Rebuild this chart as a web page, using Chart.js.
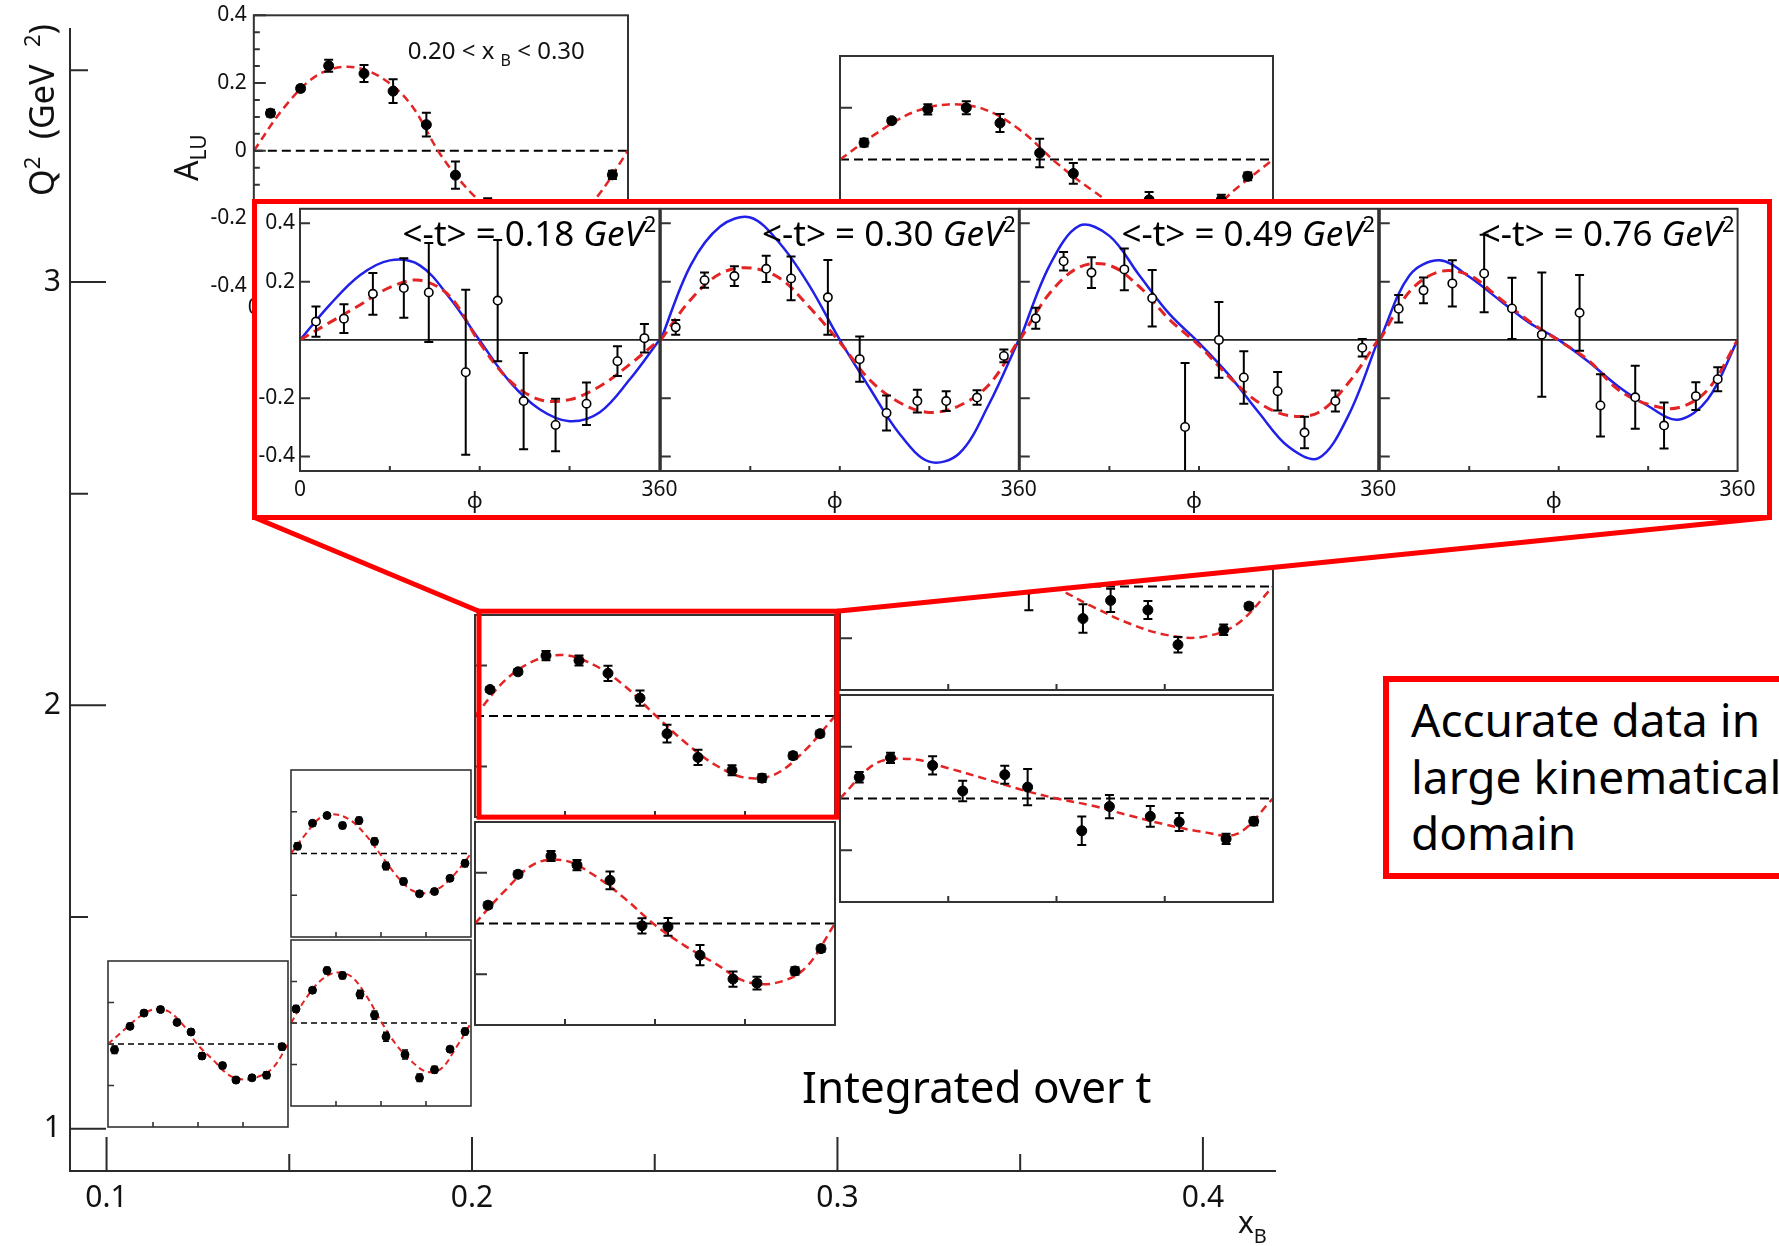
<!DOCTYPE html>
<html>
<head>
<meta charset="utf-8">
<title>Beam spin asymmetry A_LU in x_B, Q2 bins</title>
<script src="https://cdn.jsdelivr.net/npm/chart.js@4.4.1/dist/chart.umd.min.js"></script>
<style>
  html, body { margin: 0; padding: 0; background: #fff; }
  #page { position: relative; width: 1779px; height: 1246px; overflow: hidden; background: #fff; }
  #page canvas { position: absolute; }
  #inset { position: absolute; left: 252px; top: 199px; width: 1520px; height: 321px; box-sizing: border-box;
           border: 5px solid #ff0000; background: #fff; overflow: hidden; z-index: 4; }
  .comic { position: absolute; font-family: "Noto Sans", "DejaVu Sans", sans-serif; color: #000; white-space: nowrap; }
  #integrated { left: 802px; top: 1064px; font-size: 44px; line-height: 44px; z-index: 5; }
  #domain { left: 1383px; top: 676px; width: 560px; height: 203px; box-sizing: border-box; border: 6px solid #ff0000;
            padding: 9px 0 0 22px; font-size: 46px; line-height: 56.7px; background: #fff; z-index: 5; }
</style>
</head>
<body>
<div id="page">
  <canvas id="main" width="1779" height="1246" style="left:0;top:0"></canvas>
  <canvas id="overlay" width="1779" height="1246" style="left:0;top:0;z-index:3"></canvas>
  <div id="inset"></div>
  <div id="integrated" class="comic">Integrated over t</div>
  <div id="domain" class="comic">Accurate data in<br>large kinematical<br>domain</div>
</div>
<script>
// big frame: x_B across, Q2 up
const XB_RANGE = [0.09, 0.42];
const Q2_RANGE = [0.9, 3.6];
const X_TICKS = [0.1, 0.2, 0.3, 0.4];
const X_TICK_LABELS = ['0.1', '0.2', '0.3', '0.4'];
const X_MINOR = [0.15, 0.25, 0.35];
const Y_TICKS = [1, 2, 3];
const Y_TICK_LABELS = ['1', '2', '3'];
const Y_MINOR = [1.5, 2.5, 3.5];

// every small panel: phi 0..360, A_LU
const PHI_TICKS = [90, 180, 270];
const PANEL_Y_TICKS = [-0.2, 0.2];
const FIT_PHI = [0, 30, 60, 90, 120, 150, 180, 210, 240, 270, 300, 330, 360];
const ZERO_PHI = [0, 360];
const ZERO_A = [0, 0];

// bins are [xB low, xB high, Q2 low, Q2 high]
const P1_BIN = [0.10, 0.15, 1.00, 1.40];
const P1_PHI = [13, 44, 72, 105, 138, 166, 188, 229, 256, 288, 317, 348];
const P1_A = [-0.028, 0.085, 0.149, 0.166, 0.104, 0.058, -0.058, -0.104, -0.174, -0.163, -0.150, -0.013];
const P1_ERR = [0.018, 0.014, 0.012, 0.012, 0.014, 0.014, 0.016, 0.014, 0.012, 0.012, 0.016, 0.016];
const P1_FIT = [0, 0.063, 0.126, 0.166, 0.158, 0.092, -0.005, -0.076, -0.147, -0.171, -0.158, -0.115, 0];

const P2A_BIN = [0.15, 0.20, 1.05, 1.45];
const P2A_PHI = [10, 43, 72, 103, 138, 167, 190, 228, 257, 287, 318, 348];
const P2A_A = [0.068, 0.158, 0.253, 0.229, 0.138, 0.038, -0.066, -0.152, -0.264, -0.225, -0.126, -0.041];
const P2A_ERR = [0.016, 0.012, 0.016, 0.016, 0.02, 0.02, 0.022, 0.022, 0.018, 0.016, 0.012, 0.016];
const P2A_FIT = [0, 0.119, 0.206, 0.243, 0.225, 0.134, 0.008, -0.103, -0.182, -0.234, -0.221, -0.119, 0];

const P2B_BIN = [0.15, 0.20, 1.45, 1.85];
const P2B_PHI = [13, 43, 72, 103, 136, 167, 190, 225, 257, 287, 318, 348];
const P2B_A = [0.035, 0.145, 0.182, 0.134, 0.158, 0.058, -0.060, -0.134, -0.193, -0.182, -0.119, -0.047];
const P2B_ERR = [0.016, 0.012, 0.012, 0.014, 0.016, 0.016, 0.018, 0.016, 0.012, 0.012, 0.012, 0.016];
const P2B_FIT = [0, 0.095, 0.174, 0.187, 0.158, 0.087, -0.008, -0.103, -0.174, -0.19, -0.161, -0.092, 0];

const P3A_BIN = [0.20, 0.30, 1.24, 1.73];
const P3A_PHI = [13, 43, 76, 102, 135, 167, 193, 225, 258, 282, 320, 346];
const P3A_A = [0.072, 0.194, 0.266, 0.230, 0.170, -0.009, -0.013, -0.125, -0.219, -0.235, -0.187, -0.099];
const P3A_ERR = [0.012, 0.012, 0.02, 0.02, 0.035, 0.03, 0.035, 0.04, 0.03, 0.025, 0.015, 0.012];
const P3A_FIT = [0, 0.130, 0.236, 0.248, 0.188, 0.098, -0.006, -0.088, -0.157, -0.228, -0.235, -0.177, 0];

const P3B_BIN = [0.20, 0.30, 1.73, 2.22];
const P3B_PHI = [15, 43, 71, 104, 133, 165, 192, 223, 257, 287, 318, 345];
const P3B_A = [0.105, 0.175, 0.239, 0.220, 0.169, 0.071, -0.070, -0.164, -0.215, -0.246, -0.157, -0.070];
const P3B_ERR = [0.01, 0.01, 0.018, 0.02, 0.03, 0.03, 0.035, 0.03, 0.02, 0.015, 0.012, 0.012];
const P3B_FIT = [0, 0.141, 0.22, 0.241, 0.20, 0.118, 0.004, -0.104, -0.193, -0.244, -0.231, -0.136, 0];

const P4A_BIN = [0.30, 0.42, 1.53, 2.03];
const P4A_PHI = [16, 42, 77, 102, 137, 156, 201, 224, 258, 282, 321, 344];
const P4A_A = [0.082, 0.157, 0.128, 0.029, 0.092, 0.044, -0.125, -0.031, -0.069, -0.091, -0.156, -0.088];
const P4A_ERR = [0.02, 0.02, 0.035, 0.04, 0.035, 0.07, 0.055, 0.045, 0.04, 0.035, 0.02, 0.015];
const P4A_FIT = [0, 0.136, 0.152, 0.117, 0.077, 0.035, 0.0, -0.028, -0.065, -0.10, -0.128, -0.137, 0];

const P4B_BIN = [0.30, 0.42, 2.03, 2.53];
const P4B_PHI = [15, 45, 75, 105, 135, 157, 202, 225, 256, 281, 319, 340];
const P4B_A = [0.09, 0.16, 0.14, 0.07, 0.05, -0.01, -0.124, -0.054, -0.091, -0.225, -0.167, -0.076];
const P4B_ERR = [0.02, 0.02, 0.03, 0.03, 0.04, 0.082, 0.055, 0.045, 0.035, 0.03, 0.02, 0.012];
const P4B_FIT = [0, 0.12, 0.16, 0.14, 0.10, 0.05, -0.006, -0.078, -0.142, -0.186, -0.196, -0.146, 0];

const P4C_BIN = [0.30, 0.42, 3.04, 3.54];
const P4C_PHI = [20, 43, 73, 105, 133, 166, 194, 225, 257, 287, 317, 339];
const P4C_A = [0.065, 0.15, 0.194, 0.20, 0.141, 0.025, -0.054, -0.20, -0.156, -0.21, -0.156, -0.065];
const P4C_ERR = [0.015, 0.01, 0.02, 0.025, 0.035, 0.055, 0.04, 0.03, 0.03, 0.03, 0.02, 0.015];
const P4C_FIT = [0, 0.10, 0.181, 0.213, 0.194, 0.113, -0.013, -0.12, -0.206, -0.244, -0.225, -0.11, 0];

// the labelled 0.20 < xB < 0.30 panel near the top
const PTOP_BIN = [0.1403, 0.2432, 2.99, 3.63];
const PTOP_PHI = [16, 45, 72, 106, 134, 166, 194, 225, 255, 285, 315, 345];
const PTOP_A = [0.111, 0.184, 0.251, 0.228, 0.176, 0.077, -0.072, -0.17, -0.22, -0.25, -0.16, -0.071];
const PTOP_ERR = [0.01, 0.008, 0.018, 0.025, 0.035, 0.035, 0.04, 0.03, 0.02, 0.015, 0.012, 0.012];
const PTOP_FIT = [0, 0.131, 0.221, 0.248, 0.221, 0.141, -0.013, -0.127, -0.2, -0.245, -0.23, -0.137, 0];
const PTOP_Y_TICKS = [0.4, 0.2, 0, -0.2, -0.4];
const PTOP_Y_LABELS = ['0.4', '0.2', '0', '-0.2', '-0.4'];
const PTOP_Y_MINOR = [0.35, 0.3, 0.25, 0.15, 0.1, 0.05, -0.05, -0.1, -0.15, -0.25, -0.3, -0.35];

// zoomed t-bins (inset)
const INSET_T = ['0.18', '0.30', '0.49', '0.76'];
const INSET_Y_TICKS = [0.4, 0.2, -0.2, -0.4];
const INSET_Y_LABELS = ['0.4', '0.2', '-0.2', '-0.4'];

const I1_PHI = [16, 44, 73, 104, 129, 166, 198, 224, 256, 287, 318, 345];
const I1_A = [0.063, 0.073, 0.158, 0.178, 0.163, -0.111, 0.135, -0.21, -0.292, -0.219, -0.073, 0.006];
const I1_ERR = [0.052, 0.049, 0.072, 0.102, 0.17, 0.283, 0.208, 0.165, 0.09, 0.073, 0.051, 0.049];
const I1_FIT = [0, 0.06, 0.12, 0.18, 0.205, 0.15, -0.01, -0.14, -0.205, -0.205, -0.16, -0.085, 0];
const I1_MODEL = [0, 0.121, 0.222, 0.273, 0.256, 0.144, -0.002, -0.143, -0.238, -0.279, -0.249, -0.137, 0];

const I2_PHI = [15, 44, 74, 106, 131, 168, 200, 227, 258, 287, 318, 345];
const I2_A = [0.043, 0.205, 0.219, 0.244, 0.211, 0.146, -0.066, -0.251, -0.21, -0.21, -0.198, -0.055];
const I2_ERR = [0.025, 0.026, 0.034, 0.045, 0.075, 0.128, 0.078, 0.06, 0.039, 0.034, 0.025, 0.022];
const I2_FIT = [0, 0.138, 0.228, 0.247, 0.211, 0.11, -0.008, -0.137, -0.215, -0.249, -0.226, -0.154, 0];
const I2_MODEL = [0, 0.256, 0.39, 0.42, 0.33, 0.183, 0, -0.165, -0.322, -0.418, -0.39, -0.221, 0];

const I3_PHI = [16, 44, 72, 105, 133, 166, 200, 225, 259, 286, 317, 344];
const I3_A = [0.074, 0.27, 0.231, 0.242, 0.143, -0.299, 0.0, -0.129, -0.176, -0.318, -0.21, -0.027];
const I3_ERR = [0.036, 0.032, 0.053, 0.072, 0.097, 0.22, 0.13, 0.09, 0.066, 0.054, 0.036, 0.03];
const I3_FIT = [0, 0.16, 0.25, 0.256, 0.183, 0.071, -0.019, -0.126, -0.215, -0.26, -0.249, -0.148, 0];
const I3_MODEL = [0, 0.256, 0.392, 0.357, 0.222, 0.09, -0.01, -0.12, -0.249, -0.367, -0.406, -0.26, 0];

const I4_PHI = [19, 44, 73, 105, 133, 163, 201, 222, 257, 286, 318, 340];
const I4_A = [0.107, 0.17, 0.194, 0.228, 0.108, 0.018, 0.093, -0.225, -0.197, -0.294, -0.193, -0.135];
const I4_ERR = [0.047, 0.044, 0.079, 0.133, 0.105, 0.213, 0.13, 0.107, 0.108, 0.079, 0.048, 0.041];
const I4_FIT = [0, 0.166, 0.234, 0.222, 0.144, 0.065, -0.002, -0.07, -0.171, -0.221, -0.233, -0.171, 0];
const I4_MODEL = [0, 0.222, 0.273, 0.217, 0.138, 0.06, 0, -0.075, -0.16, -0.227, -0.274, -0.204, 0];

// layout of the red inset box (page pixels)
const INSET_BOX = { x: 252, y: 199, w: 1520, h: 321, border: 5 };
const INSET_PLOT = { x: 300, y: 205, w: 359.4, h: 266 };

const RED = '#e42424';
const BLUE = '#2020e8';
const FONT = '"Noto Sans", "DejaVu Sans", sans-serif';
const CURVE_TENSION = 0.35;

const SMALL = { r: 4, cap: 3, errW: 1.5, tickL: 6, tickB: 5, frameW: 1.6, fitW: 2, fitDash: [6, 4], zeroW: 1.6, zeroDash: [6, 4] };
const LARGE = { r: 5, cap: 4.5, errW: 2, tickL: 12, tickB: 6, frameW: 2, fitW: 2.5, fitDash: [8, 5], zeroW: 2, zeroDash: [9, 5] };
const INSET_ST = { r: 4.2, cap: 4.5, errW: 2, tickL: 10, tickB: 5, frameW: 2 };

function pts(xs, ys) {
  return xs.map((v, i) => ({ x: v, y: ys[i] }));
}

// text made of pieces: [text, size, style, baseline shift]
function richText(ctx, parts, x, y, align) {
  let total = 0;
  parts.forEach(p => {
    ctx.font = `${p[2] || 'normal'} ${p[1]}px ${FONT}`;
    total += ctx.measureText(p[0]).width;
  });
  let cx = align === 'right' ? x - total : align === 'center' ? x - total / 2 : x;
  ctx.textAlign = 'left';
  parts.forEach(p => {
    ctx.font = `${p[2] || 'normal'} ${p[1]}px ${FONT}`;
    ctx.fillText(p[0], cx, y + (p[3] || 0));
    cx += ctx.measureText(p[0]).width;
  });
}

const mainAxes = {
  id: 'mainAxes',
  afterDraw(chart) {
    const { ctx, chartArea: a, scales: { x, y } } = chart;
    ctx.save();
    ctx.strokeStyle = '#2a2a2a';
    ctx.lineWidth = 2;
    ctx.beginPath();
    ctx.moveTo(a.left, a.top);
    ctx.lineTo(a.left, a.bottom);
    ctx.lineTo(a.right, a.bottom);
    X_TICKS.forEach(v => { const px = x.getPixelForValue(v); ctx.moveTo(px, a.bottom); ctx.lineTo(px, a.bottom - 34); });
    X_MINOR.forEach(v => { const px = x.getPixelForValue(v); ctx.moveTo(px, a.bottom); ctx.lineTo(px, a.bottom - 17); });
    Y_TICKS.forEach(v => { const py = y.getPixelForValue(v); ctx.moveTo(a.left, py); ctx.lineTo(a.left + 36, py); });
    Y_MINOR.forEach(v => { const py = y.getPixelForValue(v); ctx.moveTo(a.left, py); ctx.lineTo(a.left + 18, py); });
    ctx.stroke();

    ctx.fillStyle = '#111';
    ctx.font = `30px ${FONT}`;
    ctx.textBaseline = 'middle';
    ctx.textAlign = 'center';
    X_TICKS.forEach((v, i) => ctx.fillText(X_TICK_LABELS[i], x.getPixelForValue(v), a.bottom + 27));
    ctx.textAlign = 'right';
    Y_TICKS.forEach((v, i) => ctx.fillText(Y_TICK_LABELS[i], a.left - 9, y.getPixelForValue(v)));

    ctx.textBaseline = 'alphabetic';
    richText(ctx, [['x', 30], ['B', 20, 'normal', 10]], a.right - 38, a.bottom + 62, 'left');
    ctx.translate(42, 110);
    ctx.rotate(-Math.PI / 2);
    richText(ctx, [['Q', 34], ['2', 22, 'normal', -14], ['  (GeV  ', 34], ['2', 22, 'normal', -14], [')', 34]], 0, 12, 'center');
    ctx.restore();
  }
};

// frame, ticks, error bars and labels of one small plot
function framePlugin(spec) {
  return {
    id: 'frame',
    beforeDatasetDraw(chart, args) {
      if (args.index !== 0) return;
      const { ctx, chartArea: a, scales: { x, y } } = chart;
      const st = spec.st;
      ctx.save();
      ctx.beginPath();
      ctx.rect(a.left, a.top, a.width, a.height);
      ctx.clip();
      ctx.strokeStyle = '#000';
      ctx.lineWidth = st.errW;
      ctx.beginPath();
      spec.phi.forEach((p, i) => {
        const px = x.getPixelForValue(p);
        const lo = y.getPixelForValue(spec.a[i] - spec.err[i]);
        const hi = y.getPixelForValue(spec.a[i] + spec.err[i]);
        ctx.moveTo(px, lo); ctx.lineTo(px, hi);
        ctx.moveTo(px - st.cap, lo); ctx.lineTo(px + st.cap, lo);
        ctx.moveTo(px - st.cap, hi); ctx.lineTo(px + st.cap, hi);
      });
      ctx.stroke();
      ctx.restore();
    },
    afterDatasetsDraw(chart) {
      const { ctx, chartArea: a, scales: { x, y } } = chart;
      const st = spec.st;
      ctx.save();
      ctx.strokeStyle = '#333';
      ctx.lineWidth = st.frameW;
      ctx.strokeRect(a.left, a.top, a.width, a.height);
      ctx.beginPath();
      spec.yTicks.forEach(v => { const py = y.getPixelForValue(v); ctx.moveTo(a.left, py); ctx.lineTo(a.left + st.tickL, py); });
      (spec.yMinor || []).forEach(v => { const py = y.getPixelForValue(v); ctx.moveTo(a.left, py); ctx.lineTo(a.left + st.tickL / 2, py); });
      PHI_TICKS.forEach(v => { const px = x.getPixelForValue(v); ctx.moveTo(px, a.bottom); ctx.lineTo(px, a.bottom - st.tickB); });
      ctx.stroke();
      if (spec.draw) spec.draw(ctx, a, x, y);
      ctx.restore();
    }
  };
}

function addCanvas(parent, x0, y0, x1, y1, pad, ox, oy, z) {
  const left = Math.floor(x0 - pad[0]), top = Math.floor(y0 - pad[1]);
  const right = Math.ceil(x1 + pad[2]), bottom = Math.ceil(y1 + pad[3]);
  const cv = document.createElement('canvas');
  cv.width = right - left;
  cv.height = bottom - top;
  cv.style.left = (left - ox) + 'px';
  cv.style.top = (top - oy) + 'px';
  if (z) cv.style.zIndex = z;
  parent.appendChild(cv);
  return { cv, padding: { left: x0 - left, top: y0 - top, right: right - x1, bottom: bottom - y1 } };
}

function panelChart(place, yRange, datasets, spec) {
  return new Chart(place.cv, {
    type: 'line',
    data: { datasets },
    options: {
      responsive: false,
      animation: false,
      events: [],
      layout: { padding: place.padding },
      scales: {
        x: { type: 'linear', display: false, min: 0, max: 360 },
        y: { type: 'linear', display: false, min: yRange[0], max: yRange[1] }
      },
      plugins: { legend: { display: false }, tooltip: { enabled: false } }
    },
    plugins: [framePlugin(spec)]
  });
}

// ---- main frame
const page = document.getElementById('page');
const main = new Chart(document.getElementById('main'), {
  type: 'scatter',
  data: { datasets: [] },
  options: {
    responsive: false,
    animation: false,
    events: [],
    layout: { padding: { left: 70, top: 28, right: 503, bottom: 75 } },
    scales: {
      x: { type: 'linear', display: false, min: XB_RANGE[0], max: XB_RANGE[1] },
      y: { type: 'linear', display: false, min: Q2_RANGE[0], max: Q2_RANGE[1] }
    },
    plugins: { legend: { display: false }, tooltip: { enabled: false } }
  },
  plugins: [mainAxes]
});
const X = v => main.scales.x.getPixelForValue(v);
const Y = v => main.scales.y.getPixelForValue(v);

// ---- panels placed in the (x_B, Q2) plane
const PANELS = [
  { bin: P1_BIN, phi: P1_PHI, a: P1_A, err: P1_ERR, fit: P1_FIT, st: SMALL },
  { bin: P2A_BIN, phi: P2A_PHI, a: P2A_A, err: P2A_ERR, fit: P2A_FIT, st: SMALL },
  { bin: P2B_BIN, phi: P2B_PHI, a: P2B_A, err: P2B_ERR, fit: P2B_FIT, st: SMALL },
  { bin: P3A_BIN, phi: P3A_PHI, a: P3A_A, err: P3A_ERR, fit: P3A_FIT, st: LARGE },
  { bin: P3B_BIN, phi: P3B_PHI, a: P3B_A, err: P3B_ERR, fit: P3B_FIT, st: LARGE },
  { bin: P4A_BIN, phi: P4A_PHI, a: P4A_A, err: P4A_ERR, fit: P4A_FIT, st: LARGE },
  { bin: P4B_BIN, phi: P4B_PHI, a: P4B_A, err: P4B_ERR, fit: P4B_FIT, st: LARGE },
  { bin: P4C_BIN, phi: P4C_PHI, a: P4C_A, err: P4C_ERR, fit: P4C_FIT, st: LARGE },
  { bin: PTOP_BIN, phi: PTOP_PHI, a: PTOP_A, err: PTOP_ERR, fit: PTOP_FIT, st: LARGE, labelled: true }
];

PANELS.forEach(p => {
  const st = p.st;
  const pad = p.labelled ? [100, 16, 4, 40] : [3, 3, 3, 3];
  const place = addCanvas(page, X(p.bin[0]), Y(p.bin[3]), X(p.bin[1]), Y(p.bin[2]), pad, 0, 0, 2);
  const spec = { st, phi: p.phi, a: p.a, err: p.err, yTicks: PANEL_Y_TICKS };
  if (p.labelled) {
    spec.yTicks = PTOP_Y_TICKS;
    spec.yMinor = PTOP_Y_MINOR;
    spec.draw = (ctx, a, x, y) => {
      ctx.fillStyle = '#111';
      ctx.font = `21px ${FONT}`;
      ctx.textAlign = 'right';
      ctx.textBaseline = 'middle';
      PTOP_Y_TICKS.forEach((v, i) => ctx.fillText(PTOP_Y_LABELS[i], a.left - 7, y.getPixelForValue(v)));
      ctx.textAlign = 'center';
      ctx.fillText('0', a.left, a.bottom + 22);
      ctx.textBaseline = 'alphabetic';
      richText(ctx, [['0.20 < x ', 24], ['B', 16, 'normal', 7], [' < 0.30', 24]], a.left + 154, a.top + 44, 'left');
      ctx.translate(a.left - 67, y.getPixelForValue(0) + 7);
      ctx.rotate(-Math.PI / 2);
      richText(ctx, [['A', 32], ['LU', 21, 'normal', 8]], 0, 11, 'center');
    };
  }
  panelChart(place, [-0.4, 0.4], [
    { data: pts(p.phi, p.a), showLine: false, pointRadius: st.r, pointBackgroundColor: '#000', pointBorderColor: '#000', pointBorderWidth: 1 },
    { data: pts(FIT_PHI, p.fit), borderColor: RED, borderWidth: st.fitW, borderDash: st.fitDash, pointRadius: 0, tension: CURVE_TENSION },
    { data: pts(ZERO_PHI, ZERO_A), borderColor: '#000', borderWidth: st.zeroW, borderDash: st.zeroDash, pointRadius: 0 }
  ], spec);
});

// ---- magnifier: white wedge, red lines, red box round the 0.20-0.30 bin
const ov = document.getElementById('overlay').getContext('2d');
const bx0 = X(P3B_BIN[0]) + 7, bx1 = X(P3B_BIN[1]) - 0.5;
const by0 = Y(P3B_BIN[3]) - 1, by1 = Y(P3B_BIN[2]) - 2.5;
const ib = INSET_BOX.y + INSET_BOX.h;
ov.fillStyle = '#fff';
ov.beginPath();
ov.moveTo(INSET_BOX.x, ib);
ov.lineTo(bx0, by0);
ov.lineTo(bx1, by0);
ov.lineTo(INSET_BOX.x + INSET_BOX.w, ib);
ov.closePath();
ov.fill();
ov.strokeStyle = '#ff0000';
ov.lineWidth = 5;
ov.beginPath();
ov.moveTo(INSET_BOX.x + 2.5, ib - 2.5);
ov.lineTo(bx0, by0);
ov.moveTo(INSET_BOX.x + INSET_BOX.w - 2.5, ib - 2.5);
ov.lineTo(bx1, by0);
ov.stroke();
ov.strokeRect(bx0, by0, bx1 - bx0, by1 - by0);

// ---- inset: four t bins
const inset = document.getElementById('inset');
const INSET_SETS = [
  { phi: I1_PHI, a: I1_A, err: I1_ERR, fit: I1_FIT, model: I1_MODEL },
  { phi: I2_PHI, a: I2_A, err: I2_ERR, fit: I2_FIT, model: I2_MODEL },
  { phi: I3_PHI, a: I3_A, err: I3_ERR, fit: I3_FIT, model: I3_MODEL },
  { phi: I4_PHI, a: I4_A, err: I4_ERR, fit: I4_FIT, model: I4_MODEL }
];
const ox = INSET_BOX.x + INSET_BOX.border, oy = INSET_BOX.y + INSET_BOX.border;
INSET_SETS.forEach((d, k) => {
  const x0 = INSET_PLOT.x + k * INSET_PLOT.w;
  const place = addCanvas(inset, x0, INSET_PLOT.y, x0 + INSET_PLOT.w, INSET_PLOT.y + INSET_PLOT.h,
    [k === 0 ? 48 : 4, 2, 30, 45], ox, oy, 1);
  const spec = {
    st: INSET_ST, phi: d.phi, a: d.a, err: d.err, yTicks: INSET_Y_TICKS,
    draw(ctx, a, x, y) {
      ctx.fillStyle = '#111';
      ctx.font = `21px ${FONT}`;
      ctx.textBaseline = 'middle';
      ctx.textAlign = 'center';
      if (k === 0) {
        ctx.fillText('0', a.left, a.bottom + 19);
        ctx.textAlign = 'right';
        INSET_Y_TICKS.forEach((v, i) => ctx.fillText(INSET_Y_LABELS[i], a.left - 5, y.getPixelForValue(v)));
        ctx.textAlign = 'center';
      }
      ctx.fillText('360', a.right, a.bottom + 19);
      ctx.font = `22px ${FONT}`;
      ctx.fillText('ϕ', x.getPixelForValue(175), a.bottom + 31);
      ctx.fillStyle = '#000';
      ctx.textBaseline = 'alphabetic';
      richText(ctx, [['<-t> = ' + INSET_T[k] + ' ', 35], ['GeV', 35, 'italic'], ['2', 22, 'normal', -14]],
        a.right - 3, a.top + 37, 'right');
    }
  };
  panelChart(place, [-0.45, 0.45], [
    { data: pts(d.phi, d.a), showLine: false, pointRadius: INSET_ST.r, pointBackgroundColor: '#fff', pointBorderColor: '#000', pointBorderWidth: 1.6 },
    { data: pts(FIT_PHI, d.fit), borderColor: RED, borderWidth: 3, borderDash: [10, 6], pointRadius: 0, tension: CURVE_TENSION },
    { data: pts(FIT_PHI, d.model), borderColor: BLUE, borderWidth: 2.5, pointRadius: 0, tension: CURVE_TENSION },
    { data: pts(ZERO_PHI, ZERO_A), borderColor: '#222', borderWidth: 1.6, pointRadius: 0 }
  ], spec);
});
</script>
</body>
</html>
